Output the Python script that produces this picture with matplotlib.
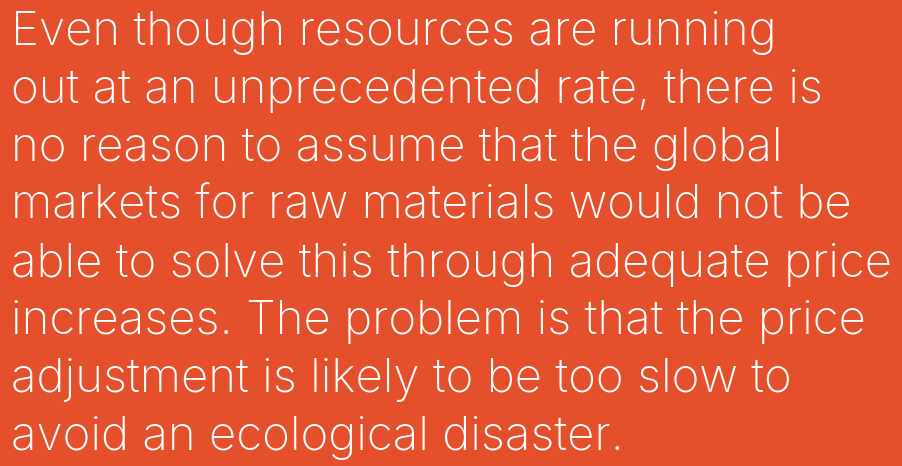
import matplotlib
matplotlib.use('Agg')
import matplotlib.pyplot as plt

lines = [
    "Even though resources are running",
    "out at an unprecedented rate, there is",
    "no reason to assume that the global",
    "markets for raw materials would not be",
    "able to solve this through adequate price",
    "increases. The problem is that the price",
    "adjustment is likely to be too slow to",
    "avoid an ecological disaster.",
]

bg = '#e3502b'
fig = plt.figure(figsize=(9.03, 4.66), dpi=100, facecolor=bg)

top_baseline = 45
spacing = 57.9
for i, line in enumerate(lines):
    y = 1 - (top_baseline + i * spacing) / 466
    fig.text(11 / 903, y, line, color='white', fontsize=34.2, va='baseline', ha='left',
             family='Inter', fontweight='light')

fig.savefig('out.png', dpi=100, facecolor=bg)
